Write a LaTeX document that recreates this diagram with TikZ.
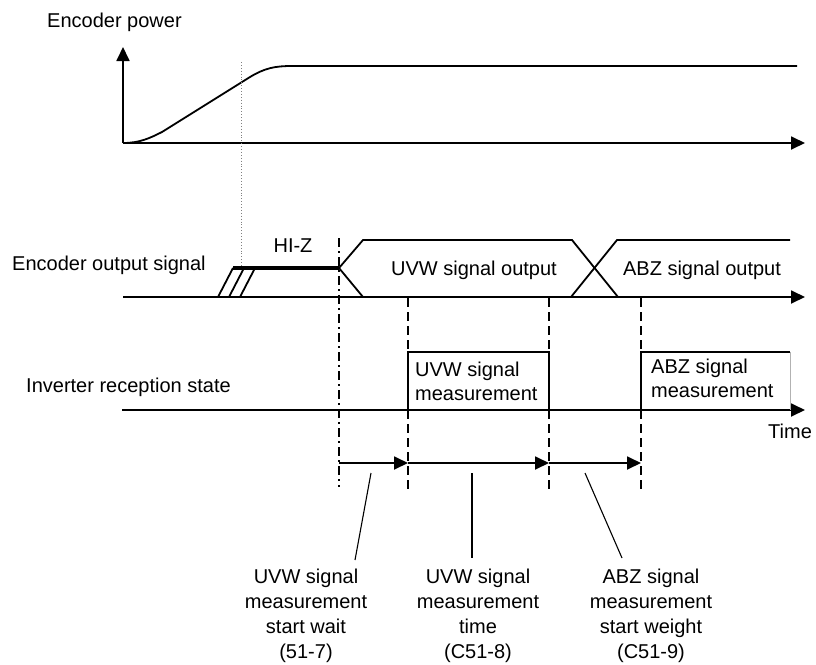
\documentclass[tikz,border=0pt]{standalone}
\usepackage{fontspec}
\setmainfont{Liberation Sans}
\usetikzlibrary{arrows.meta}
\begin{document}
\begin{tikzpicture}[x=1pt,y=-1pt,
  lbl/.style={font=\fontsize{20}{25}\selectfont, inner sep=0pt},
  boxlbl/.style={font=\fontsize{20}{24}\selectfont, inner sep=0pt, align=left},
  botlbl/.style={font=\fontsize{20}{25}\selectfont, inner sep=0pt, align=center},
  ax/.style={line width=1.8pt, -{Triangle[length=14pt,width=13pt]}},
  sig/.style={line width=1.8pt, line join=miter},
  hiz/.style={line width=4.5pt},
  vdash/.style={line width=1.8pt, dash pattern=on 9pt off 5pt},
  vdashdot/.style={line width=1.8pt, dash pattern=on 9pt off 4pt on 2pt off 4pt},
  spanarr/.style={line width=1.8pt, -{Triangle[length=14pt,width=13pt]}},
  leader/.style={line width=1.1pt},
  guide/.style={line width=0.9pt, gray, dotted},
]
\useasboundingbox (0,0) rectangle (816,664);

% ---- texts
\node[lbl, anchor=base west] (tpow) at (47,27) {Encoder power};
\node[lbl, anchor=base west] (tout) at (12,270) {Encoder output signal};
\node[lbl, anchor=base west] (tinv) at (26,392) {Inverter reception state};
\node[lbl, anchor=base west] (ttime) at (768,438) {Time};
\node[lbl, anchor=base] (thiz) at (293,252) {HI-Z};
\node[lbl, anchor=base] (tuvwo) at (474,275) {UVW signal output};
\node[lbl, anchor=base] (tabzo) at (702,275) {ABZ signal output};

% ---- encoder power
\coordinate (p0) at (123,143);
\coordinate (pup) at (123,47);
\coordinate (pend) at (805,143);
\draw[ax] (p0) -- (pup);
\draw[ax] (p0) -- (pend);
\draw[sig] (p0) .. controls (140,143) and (150,138) .. (162,132)
  -- (250,77) .. controls (265,68) and (275,66) .. (292,66) -- (797,66);
\draw[guide] (241,62) -- (241,268);

% ---- encoder output signal
\coordinate (o0) at (123,297);
\coordinate (oend) at (805,297);
\draw[ax] (o0) -- (oend);
\draw[sig] (218,297) -- (233,268);
\draw[sig] (229,297) -- (244,268);
\draw[sig] (240,297) -- (255,268);
\draw[hiz] (233,268) -- (339,268);
\draw[sig] (363,297) -- (339,268) -- (363,240) -- (572,240) -- (618,297);
\draw[sig] (571,297) -- (617,240) -- (790,240);

% ---- inverter reception state
\coordinate (i0) at (122,410);
\coordinate (iend) at (805,410);
\draw[ax] (i0) -- (iend);
\draw[sig] (408,410) rectangle (549,352);
\draw[sig] (641,410) -- (641,352) -- (790,352);
\draw[line width=0.8pt, gray!60] (790,352) -- (790,410);
\node[boxlbl, anchor=base west] (tuvwm) at (415,400) {UVW signal\\measurement};
\node[boxlbl, anchor=base west] (tabzm) at (651,397) {ABZ signal\\measurement};

% ---- vertical markers
\coordinate (t0) at (339,463);
\coordinate (t1) at (408,463);
\coordinate (t2) at (549,463);
\coordinate (t3) at (641,463);
\draw[vdashdot] (339,238) -- (339,487);
\draw[vdash] (408,298) -- (408,490);
\draw[vdash] (549,298) -- (549,490);
\draw[vdash] (641,298) -- (641,490);

% ---- spans
\draw[spanarr] (t0) -- (t1);
\draw[spanarr] (t1) -- (t2);
\draw[spanarr] (t2) -- (t3);

% ---- bottom labels
\node[botlbl, anchor=base] (l1) at (306,658) {UVW signal\\measurement\\start wait\\(51-7)};
\node[botlbl, anchor=base] (l2) at (478,658) {UVW signal\\measurement\\time\\(C51-8)};
\node[botlbl, anchor=base] (l3) at (651,658) {ABZ signal\\measurement\\start weight\\(C51-9)};

\coordinate (a1) at (371,473); \coordinate (b1) at (355,560);
\coordinate (a2) at (472,473); \coordinate (b2) at (472,558);
\coordinate (a3) at (585,473); \coordinate (b3) at (622,558);
\draw[leader] (a1) -- (b1);
\draw[leader] (a2) -- (b2);
\draw[leader] (a3) -- (b3);
\end{tikzpicture}
\end{document}
